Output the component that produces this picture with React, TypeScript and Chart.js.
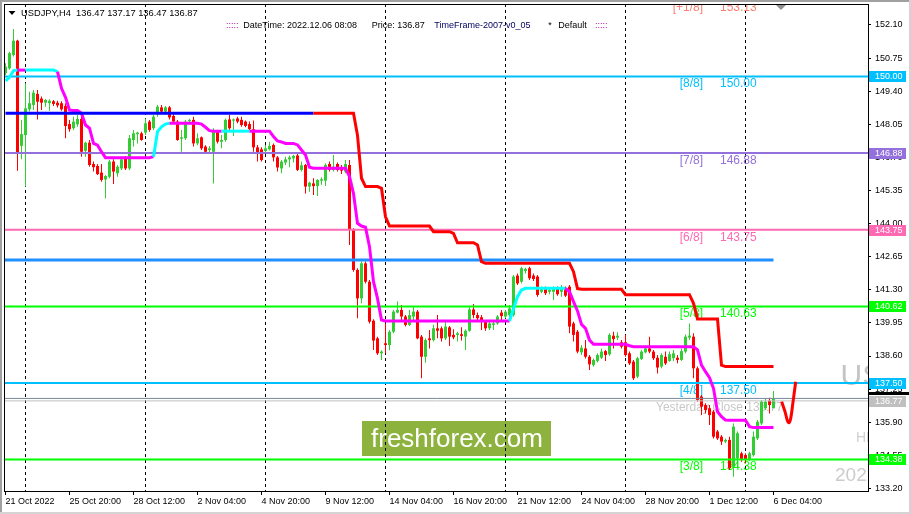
import React, { useEffect, useRef } from "react";
import { Chart, registerables } from "chart.js";

Chart.register(...registerables);

// ---------- DATA (USDJPY H4, bar 0 = 21 Oct 2022 04:00) ----------
const barOpen = [
  150.13,150.33,150.88,151.46,147.17,147.61,148.66,148.84,149.29,149.10,
  148.93,148.91,148.99,148.93,148.91,148.80,148.06,147.89,148.05,148.27,
  146.97,147.30,146.43,146.35,146.08,145.80,145.91,146.53,146.05,146.25,
  146.66,146.25,147.41,147.65,147.68,147.71,148.16,147.89,148.50,148.74,
  148.57,148.74,148.39,148.16,147.46,147.48,148.18,148.23,147.27,147.52,
  147.14,147.00,146.93,147.75,147.34,147.41,148.25,148.20,148.29,148.23,
  148.16,148.06,147.85,147.11,147.03,146.96,147.03,147.21,146.70,146.25,
  146.49,146.62,146.66,146.78,146.19,146.39,145.51,145.64,145.53,145.75,
  145.75,146.43,146.19,146.43,146.25,146.12,146.39,143.74,142.11,140.95,
  142.38,141.63,140.04,139.32,138.71,139.12,139.05,139.59,140.37,140.48,
  140.21,139.87,140.21,140.41,139.39,138.57,139.32,139.25,139.73,139.73,
  139.32,139.77,139.46,139.46,139.49,139.39,139.63,140.50,140.27,140.18,
  140.00,139.73,139.87,139.93,140.37,140.21,140.27,140.27,141.88,141.63,
  142.07,142.18,141.88,141.84,141.22,141.36,141.22,141.22,141.36,141.22,
  141.36,141.43,139.93,139.59,138.75,138.91,138.57,138.23,138.40,138.53,
  138.80,138.67,139.43,139.35,139.16,139.16,138.71,138.37,137.76,138.48,
  138.75,138.91,138.78,138.53,138.17,138.57,138.40,138.51,138.53,138.44,
  138.78,139.35,139.39,138.10,136.94,136.60,136.47,136.33,135.52,135.31,
  135.11,135.18,134.09,134.43,134.63,134.56,134.40,134.56,135.24,135.85,
  136.47,136.78,136.47,
];
const barHigh = [
  150.54,151.01,151.94,151.50,148.23,149.72,149.38,149.45,149.45,149.18,
  149.08,149.07,149.04,149.01,148.99,148.91,148.23,148.36,148.43,148.43,
  147.34,147.41,146.53,146.43,146.43,145.98,146.59,146.62,146.39,146.73,
  146.76,147.61,147.82,147.75,147.75,148.29,148.23,148.43,148.84,148.84,
  148.80,148.80,148.47,148.23,147.82,148.23,148.28,148.36,147.68,147.55,
  147.20,147.17,147.89,147.82,147.61,148.29,148.43,148.29,148.36,148.36,
  148.20,148.16,148.20,147.21,147.11,147.21,147.34,147.27,146.76,146.59,
  146.73,146.78,146.81,146.84,146.53,146.43,145.71,145.85,145.81,145.89,
  146.46,146.53,146.80,146.49,146.39,146.59,146.59,143.81,142.18,142.45,
  142.45,141.70,140.10,139.39,138.84,139.93,139.66,140.48,140.82,140.68,
  140.27,140.48,140.61,140.48,139.46,139.32,139.66,139.87,140.27,139.80,
  140.07,139.82,139.69,139.59,139.77,139.69,140.59,140.72,140.37,140.27,
  140.07,140.07,140.07,140.27,140.48,140.48,140.68,141.90,141.97,142.24,
  142.20,142.24,141.97,141.90,141.43,141.43,141.36,141.43,141.43,141.50,
  141.43,141.50,140.00,139.66,139.05,139.25,138.64,138.50,138.71,138.91,
  138.85,139.53,139.59,139.57,139.25,139.46,138.78,138.44,138.57,138.85,
  138.98,139.39,138.85,138.64,138.71,138.78,138.78,138.85,138.64,138.91,
  139.48,139.93,139.53,138.17,137.01,136.67,136.60,136.40,135.58,135.38,
  135.24,135.31,135.85,135.52,134.70,134.63,134.70,135.52,135.99,136.81,
  136.88,136.90,137.17,
];
const barLow = [
  150.06,150.27,150.81,146.16,146.62,145.51,148.57,148.63,148.25,148.63,
  148.77,148.60,148.80,148.74,148.60,147.48,147.75,147.82,147.95,146.73,
  146.73,146.32,146.12,145.98,145.71,145.03,145.85,145.62,145.91,146.19,
  146.19,146.19,147.14,147.27,147.38,147.61,147.75,147.82,148.36,148.50,
  148.43,148.25,148.09,147.38,146.93,147.41,148.12,147.14,147.20,147.00,
  146.87,146.89,145.64,147.27,147.07,147.34,147.82,147.57,148.09,147.95,
  147.93,147.82,146.93,146.53,146.53,146.87,146.98,146.53,146.12,146.05,
  146.39,146.30,146.49,146.15,146.12,145.23,145.30,145.17,145.13,145.58,
  145.53,146.12,146.12,146.12,146.02,146.05,143.13,142.04,140.14,140.75,
  141.56,139.93,138.85,138.64,138.44,138.71,138.84,139.53,140.34,140.07,
  139.80,139.82,140.07,139.28,137.69,138.33,138.91,139.19,139.32,139.19,
  139.25,139.01,139.28,139.19,139.23,138.85,139.59,140.14,140.07,139.66,
  139.63,139.66,139.66,139.87,140.07,140.14,140.14,140.21,141.50,141.56,
  141.97,141.70,141.66,141.02,141.16,141.09,141.12,140.88,141.06,141.02,
  141.01,139.53,139.19,138.71,138.64,138.50,138.03,138.16,138.34,138.48,
  138.40,138.61,138.91,139.25,138.91,138.57,138.23,137.62,137.69,138.44,
  138.71,138.71,138.44,137.89,138.10,138.23,138.37,138.40,138.30,138.40,
  138.71,139.25,137.69,136.74,136.19,136.26,135.79,135.24,135.17,134.97,
  135.04,133.95,133.68,134.02,134.29,134.22,134.32,134.50,135.17,135.79,
  136.40,136.26,136.47,
];
const barClose = [
  150.40,150.95,151.46,146.87,147.65,148.70,148.91,149.34,148.97,148.93,
  149.04,149.01,148.88,148.82,148.66,147.98,147.85,148.16,148.27,146.93,
  147.30,146.39,146.30,146.02,145.78,145.94,146.53,146.12,146.32,146.62,
  146.25,147.48,147.68,147.71,147.41,148.09,147.82,148.36,148.77,148.57,
  148.74,148.33,148.16,147.41,147.52,148.16,148.23,147.27,147.48,147.07,
  146.93,147.07,147.75,147.34,147.41,148.23,147.89,148.25,148.16,148.02,
  147.98,147.85,147.11,146.89,146.59,147.07,147.17,146.70,146.29,146.53,
  146.62,146.70,146.76,146.19,146.38,145.51,145.67,145.53,145.78,145.81,
  146.39,146.19,146.32,146.19,146.16,146.43,143.74,142.11,140.95,142.38,
  141.63,140.00,139.23,138.71,138.78,139.05,139.59,140.41,140.48,140.21,
  139.87,140.27,140.41,139.32,138.57,139.25,139.25,139.73,139.63,139.32,
  139.80,139.39,139.36,139.53,139.42,139.63,140.50,140.27,140.14,140.00,
  139.73,139.93,139.93,140.21,140.23,140.41,140.54,141.84,141.56,142.18,
  142.15,141.77,141.74,141.09,141.36,141.16,141.29,141.36,141.12,141.39,
  141.06,139.80,139.46,138.78,138.94,138.57,138.26,138.44,138.64,138.78,
  138.64,139.46,139.29,139.43,138.98,138.64,138.30,137.69,138.51,138.78,
  138.91,138.78,138.51,138.13,138.64,138.30,138.67,138.71,138.44,138.80,
  139.39,139.43,138.10,136.81,136.53,136.40,136.19,135.31,135.24,135.11,
  135.18,134.02,135.72,135.45,134.40,134.40,134.63,135.31,135.92,136.74,
  136.74,136.60,136.87,
];

// magenta / cyan trend line (one value per bar)
const trendLine = [
  149.82,149.97,150.24,150.26,150.26,150.26,150.26,150.26,150.26,150.26,
  150.26,150.26,150.26,150.20,149.52,149.15,148.63,148.61,148.61,148.50,
  148.02,147.89,147.27,147.20,146.93,146.69,146.69,146.69,146.69,146.69,
  146.69,146.69,146.69,146.69,146.69,146.69,146.69,146.73,147.75,147.95,
  148.06,148.09,148.09,148.09,148.09,148.09,148.09,148.09,148.09,148.06,
  147.93,147.79,147.77,147.77,147.77,147.77,147.77,147.77,147.77,147.77,
  147.77,147.77,147.77,147.77,147.77,147.77,147.77,147.55,147.37,147.33,
  147.27,147.27,147.27,147.21,147.00,146.80,146.30,146.26,146.26,146.26,
  146.26,146.26,146.26,146.26,146.26,146.26,145.92,145.23,144.01,143.90,
  143.85,143.06,141.63,140.95,140.07,140.03,140.03,140.03,140.03,140.03,
  140.03,140.03,140.03,140.03,140.03,140.03,140.03,140.03,140.03,140.03,
  140.03,140.03,140.03,140.03,140.03,140.03,140.03,140.03,140.03,140.03,
  140.03,140.03,140.03,140.03,140.03,140.03,140.03,140.54,141.02,141.29,
  141.36,141.36,141.36,141.36,141.36,141.36,141.36,141.36,141.36,141.36,
  141.36,141.22,140.82,140.44,139.89,139.73,139.25,139.08,139.08,139.08,
  139.08,139.08,139.08,139.08,139.08,139.08,139.02,138.98,138.98,138.98,
  138.98,138.98,138.98,138.98,138.98,138.98,138.98,138.98,138.98,138.98,
  138.98,138.98,138.98,138.85,138.23,137.96,137.72,137.28,136.33,136.13,
  135.99,135.98,135.98,135.98,135.98,135.98,135.72,135.68,135.68,135.68,
  135.68,135.68,135.68,
];
// bar ranges [from, to) where the trend line is cyan (magenta elsewhere)
const trendCyanRanges = [[0, 3], [5, 13], [37, 41], [54, 61], [126, 140]];

// blue / red resistance step line (one value per bar)
const resistLine = [
  148.50,148.50,148.50,148.50,148.50,148.50,148.50,148.50,148.50,148.50,
  148.50,148.50,148.50,148.50,148.50,148.50,148.50,148.50,148.50,148.50,
  148.50,148.50,148.50,148.50,148.50,148.50,148.50,148.50,148.50,148.50,
  148.50,148.50,148.50,148.50,148.50,148.50,148.50,148.50,148.50,148.50,
  148.50,148.50,148.50,148.50,148.50,148.50,148.50,148.50,148.50,148.50,
  148.50,148.50,148.50,148.50,148.50,148.50,148.50,148.50,148.50,148.50,
  148.50,148.50,148.50,148.50,148.50,148.50,148.50,148.50,148.50,148.50,
  148.50,148.50,148.50,148.50,148.50,148.50,148.50,148.50,148.50,148.50,
  148.50,148.50,148.50,148.50,148.50,148.50,148.50,148.50,147.60,145.85,
  145.51,145.51,145.51,145.51,145.44,144.28,143.90,143.90,143.90,143.90,
  143.90,143.90,143.90,143.90,143.90,143.90,143.90,143.67,143.67,143.67,
  143.67,143.67,143.60,143.22,143.22,143.22,143.22,143.22,143.13,142.45,
  142.38,142.38,142.38,142.38,142.38,142.38,142.38,142.38,142.38,142.38,
  142.38,142.38,142.38,142.38,142.38,142.38,142.38,142.38,142.38,142.38,
  142.38,142.38,142.04,141.35,141.32,141.32,141.32,141.32,141.32,141.32,
  141.32,141.32,141.32,141.32,141.32,141.10,141.10,141.10,141.10,141.10,
  141.10,141.10,141.10,141.10,141.10,141.10,141.10,141.10,141.10,141.10,
  141.10,141.10,140.75,140.11,140.11,140.11,140.11,140.11,140.11,138.23,
  138.17,138.17,138.17,138.17,138.17,138.17,138.17,138.17,138.17,138.17,
  138.17,138.17,138.17,
];
const resistBlueUntil = 77;

// Murrey math levels
const levelValues = [153.13, 150.0, 146.88, 143.75, 140.62, 137.5, 134.38];
const levelNames = ["[+1/8]", "[8/8]", "[7/8]", "[6/8]", "[5/8]", "[4/8]", "[3/8]"];
const levelTexts = ["153.13", "150.00", "146.88", "143.75", "140.63", "137.50", "134.38"];
const levelColors = ["#FA8072", "#00BFFF", "#9370DB", "#FF69B4", "#00FF00", "#00BFFF", "#00FF00"];

const midLevel = 142.52;
const midLevelEndBar = 192;
const yesterdayClose = 136.77;
const bidPrice = 136.87;

// hand-drawn check mark annotation
const checkBars = [194.05, 194.9, 195.5, 195.9, 196.3, 196.9, 197.55];
const checkPrices = [136.74, 136.32, 135.95, 135.88, 136.05, 136.75, 137.55];

const yTickValues = [152.1, 150.75, 149.4, 148.05, 146.7, 145.35, 144.0, 142.65, 141.3, 139.95, 138.6, 137.25, 135.9, 134.55, 133.2];
const xTickBars = [0, 16, 32, 48, 64, 80, 96, 112, 128, 144, 160, 176, 192];
const xTickLabels = ["21 Oct 2022", "25 Oct 20:00", "28 Oct 12:00", "2 Nov 04:00", "4 Nov 20:00", "9 Nov 12:00", "14 Nov 04:00", "16 Nov 20:00", "21 Nov 12:00", "24 Nov 04:00", "28 Nov 20:00", "1 Dec 12:00", "6 Dec 04:00"];
const weekStartBars = [5, 35, 65, 95, 125, 155, 185];

// ---------- STYLE ----------
const FONT = '"Liberation Sans", Arial, sans-serif';
const UP = "#32CD32";
const DOWN = "#FF0000";

const zeroPad = (s: any) => {
  s.paddingTop = 0;
  s.paddingBottom = 0;
  s.paddingLeft = 0;
  s.paddingRight = 0;
};

const mt4Plugin = {
  id: "mt4",
  beforeDraw(chart: any) {
    const { ctx, width, height } = chart;
    ctx.save();
    ctx.fillStyle = "#FFFFFF";
    ctx.fillRect(0, 0, width, height);
    ctx.restore();
  },
  beforeDatasetsDraw(chart: any) {
    const { ctx, chartArea: a, scales } = chart;
    const x = scales.x, y = scales.y;
    ctx.save();
    ctx.beginPath();
    ctx.rect(a.left, a.top, a.right - a.left, a.bottom - a.top);
    ctx.clip();

    // watermark texts on right edge
    ctx.textBaseline = "alphabetic";
    ctx.textAlign = "left";
    ctx.fillStyle = "#C4C4C4";
    ctx.font = `30px ${FONT}`;
    ctx.fillText("USDJPY", 840.5, 385);
    ctx.fillStyle = "#D0D0D0";
    ctx.font = `14px ${FONT}`;
    ctx.fillText("HIGH", 856, 442);
    ctx.fillStyle = "#CCCCCC";
    ctx.font = `19px ${FONT}`;
    ctx.fillText("2022.12.06", 835, 480.5);

    // logo
    ctx.fillStyle = "#8DB33E";
    ctx.fillRect(362, 421, 189, 35);
    ctx.fillStyle = "#FFFFFF";
    ctx.font = `26px ${FONT}`;
    ctx.textBaseline = "middle";
    ctx.fillText("freshforex.com", 371, 439.5);

    // week separators
    ctx.strokeStyle = "#000000";
    ctx.lineWidth = 1;
    ctx.setLineDash([3, 3]);
    for (const b of weekStartBars) {
      const px = Math.floor(x.getPixelForValue(b)) + 0.5;
      ctx.beginPath();
      ctx.moveTo(px, a.top);
      ctx.lineTo(px, a.bottom);
      ctx.stroke();
    }
    ctx.setLineDash([]);

    // level labels
    ctx.font = `12px ${FONT}`;
    ctx.textBaseline = "middle";
    levelValues.forEach((v, k) => {
      const py = y.getPixelForValue(v) + 7.5;
      ctx.fillStyle = levelColors[k];
      ctx.textAlign = "right";
      ctx.fillText(levelNames[k], 703, py);
      ctx.textAlign = "left";
      ctx.fillText(levelTexts[k], 720, py);
    });
    ctx.textAlign = "left";
    ctx.fillStyle = "#C8C8C8";
    ctx.fillText("Yesterday Close " + yesterdayClose.toFixed(2), 656, y.getPixelForValue(yesterdayClose) + 6.8);
    ctx.restore();
  },
  afterDraw(chart: any) {
    const { ctx, scales } = chart;
    const y = scales.y;
    ctx.save();
    // frame
    ctx.strokeStyle = "#000000";
    ctx.lineWidth = 1;
    ctx.strokeRect(4.5, 4.5, 864, 487);

    // axis label boxes
    ctx.font = `9px ${FONT}`;
    ctx.textBaseline = "middle";
    ctx.textAlign = "left";
    const bidY = Math.round(y.getPixelForValue(bidPrice));
    ctx.fillStyle = "#000000";
    ctx.fillRect(869, bidY - 6, 41, 3);
    const boxes: [number, string, string][] = [
      [levelValues[1], levelColors[1], levelValues[1].toFixed(2)],
      [levelValues[2], levelColors[2], levelValues[2].toFixed(2)],
      [levelValues[3], levelColors[3], levelValues[3].toFixed(2)],
      [levelValues[4], levelColors[4], levelValues[4].toFixed(2)],
      [levelValues[5], levelColors[5], levelValues[5].toFixed(2)],
      [levelValues[6], levelColors[6], levelValues[6].toFixed(2)],
      [yesterdayClose, "#C0C0C0", yesterdayClose.toFixed(2)],
    ];
    for (const [v, c, t] of boxes) {
      const py = Math.round(y.getPixelForValue(v));
      ctx.fillStyle = c;
      ctx.fillRect(869, py - 5, 37, 11);
      ctx.fillStyle = "#FFFFFF";
      ctx.fillText(t, 875, py + 0.5);
    }

    // header
    ctx.fillStyle = "#000000";
    ctx.beginPath();
    ctx.moveTo(8.5, 11);
    ctx.lineTo(15.5, 11);
    ctx.lineTo(12, 15);
    ctx.closePath();
    ctx.fill();
    ctx.font = `9.3px ${FONT}`;
    ctx.fillText("USDJPY,H4  136.47 137.17 136.47 136.87", 21, 13);

    ctx.font = `9px ${FONT}`;
    const infoY = 25.5;
    ctx.fillStyle = "#A000A0";
    ctx.fillText(":::::", 226, infoY);
    ctx.fillText(":::::", 595, infoY);
    ctx.fillStyle = "#000000";
    ctx.fillText("DateTime: 2022.12.06 08:08", 243.3, infoY);
    ctx.fillText("Price: 136.87", 371.7, infoY);
    ctx.fillStyle = "#000060";
    ctx.fillText("TimeFrame-2007-v0_05", 434.3, infoY);
    ctx.fillStyle = "#000000";
    ctx.fillText("*", 548.3, infoY);
    ctx.fillText("Default", 558.3, infoY);

    // shift marker
    ctx.fillStyle = "#909090";
    ctx.beginPath();
    ctx.moveTo(776, 5);
    ctx.lineTo(786, 5);
    ctx.lineTo(781, 10);
    ctx.closePath();
    ctx.fill();

    // window border
    ctx.fillStyle = "#A0A0A0";
    ctx.fillRect(0, 0, 911, 2);
    ctx.fillRect(0, 0, 2, 514);
    ctx.fillStyle = "#D4D4D4";
    ctx.fillRect(0, 512, 911, 2);
    ctx.fillRect(909, 0, 2, 514);
    ctx.restore();
  },
};

export default function App() {
  const ref = useRef<HTMLCanvasElement | null>(null);

  useEffect(() => {
    const canvas = ref.current;
    if (!canvas) return;
    const idx = barOpen.map((_, i) => i);
    const candleColors = idx.map((i) => (barClose[i] >= barOpen[i] ? UP : DOWN));

    const levelSets = levelValues.map((v, k) => ({
      type: "line" as const,
      data: [{ x: -1, y: v }, { x: 216, y: v }],
      borderColor: levelColors[k],
      borderWidth: 2,
      pointRadius: 0,
      clip: 0,
      order: 3,
    }));

    const chart = new Chart(canvas, {
      type: "bar",
      data: {
        datasets: [
          ...levelSets,
          {
            type: "line",
            data: [{ x: -1, y: midLevel }, { x: midLevelEndBar, y: midLevel }],
            borderColor: "#1E90FF",
            borderWidth: 3,
            pointRadius: 0,
            clip: 0,
            order: 3,
          },
          {
            type: "line",
            data: [{ x: -1, y: yesterdayClose }, { x: 216, y: yesterdayClose }],
            borderColor: "#C0C0C0",
            borderWidth: 1,
            pointRadius: 0,
            clip: 0,
            order: 3,
          },
          {
            type: "line",
            data: [{ x: -1, y: bidPrice }, { x: 216, y: bidPrice }],
            borderColor: "#778899",
            borderWidth: 1,
            pointRadius: 0,
            clip: 0,
            order: 3,
          },
          {
            type: "line",
            data: idx.map((i) => ({ x: i, y: resistLine[i] })),
            borderWidth: 3,
            pointRadius: 0,
            clip: 0,
            order: 1,
            segment: {
              borderColor: (c: any) => (c.p0DataIndex < resistBlueUntil ? "#0000FF" : "#FF0000"),
            },
          },
          {
            type: "line",
            data: idx.map((i) => ({ x: i, y: trendLine[i] })),
            borderWidth: 3,
            pointRadius: 0,
            clip: 0,
            order: 1,
            segment: {
              borderColor: (c: any) =>
                trendCyanRanges.some(([s, e]) => c.p0DataIndex >= s && c.p0DataIndex < e) ? "#00FFFF" : "#FF00FF",
            },
          },
          {
            type: "line",
            data: checkBars.map((b, k) => ({ x: b, y: checkPrices[k] })),
            borderColor: "#FF0000",
            borderWidth: 3,
            pointRadius: 0,
            tension: 0.35,
            clip: 0,
            order: 0,
          },
          {
            type: "bar",
            data: idx.map((i) => ({ x: i, y: [barLow[i], barHigh[i]] })) as any,
            backgroundColor: candleColors,
            barThickness: 1,
            grouped: false,
            inflateAmount: 0,
            borderWidth: 0,
            order: 6,
          },
          {
            type: "bar",
            data: idx.map((i) => ({ x: i, y: [barOpen[i], barClose[i]] })) as any,
            backgroundColor: candleColors,
            barThickness: 3,
            minBarLength: 1,
            grouped: false,
            inflateAmount: 0,
            borderWidth: 0,
            order: 5,
          },
        ] as any,
      },
      options: {
        animation: false,
        responsive: false,
        devicePixelRatio: 1,
        events: [],
        layout: { padding: { left: 5, top: 4, right: 0, bottom: 0 } },
        plugins: { legend: { display: false }, tooltip: { enabled: false } },
        scales: {
          x: {
            type: "linear",
            min: -0.125,
            max: 215.625,
            offset: false,
            grid: { drawOnChartArea: false, tickLength: 4, color: "#000000", offset: false },
            border: { display: false },
            ticks: {
              font: { family: FONT, size: 9 },
              color: "#000000",
              align: "start",
              maxRotation: 0,
              autoSkip: false,
              padding: 1,
              callback: (_v: any, i: number) => xTickLabels[i],
            },
            afterBuildTicks: (s: any) => {
              s.ticks = xTickBars.map((v) => ({ value: v }));
            },
            afterFit: (s: any) => {
              s.height = 23;
              zeroPad(s);
            },
          },
          y: {
            type: "linear",
            position: "right",
            min: 133.095,
            max: 152.956,
            grid: { drawOnChartArea: false, tickLength: 3, color: "#000000" },
            border: { display: false },
            ticks: {
              font: { family: FONT, size: 9 },
              color: "#000000",
              padding: 4,
              callback: (v: any) => Number(v).toFixed(2),
            },
            afterBuildTicks: (s: any) => {
              s.ticks = yTickValues.map((v) => ({ value: v }));
            },
            afterFit: (s: any) => {
              s.width = 43;
              zeroPad(s);
            },
          },
        },
      } as any,
      plugins: [mt4Plugin],
    });
    return () => chart.destroy();
  }, []);

  return (
    <div style={{ position: "fixed", left: 0, top: 0, width: 911, height: 514, background: "#FFFFFF" }}>
      <canvas ref={ref} width={911} height={514} style={{ display: "block", width: 911, height: 514 }} />
    </div>
  );
}
